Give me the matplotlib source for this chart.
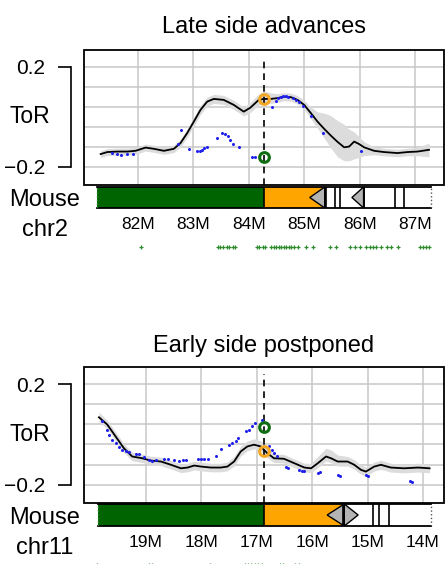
import numpy as np
import matplotlib.pyplot as plt
from matplotlib.patches import Rectangle, Polygon

plt.rcParams['font.family'] = ['Liberation Sans', 'DejaVu Sans']

# ---------------- panel 1: late side advances (mouse chr2) ----------------
top_pos = [81.33, 81.45, 81.63, 81.81, 81.96, 82.14, 82.29, 82.47, 82.65, 82.77, 82.89,
           83.01, 83.13, 83.25, 83.37, 83.55, 83.73, 83.91, 84.03, 84.18, 84.27, 84.40,
           84.51, 84.64, 84.76, 84.88, 85.00, 85.12, 85.24, 85.36, 85.48, 85.60, 85.72,
           85.81, 85.90, 85.99, 86.08, 86.26, 86.44, 86.68, 86.86, 87.04, 87.25]
top_tor = [-0.149, -0.141, -0.139, -0.139, -0.136, -0.123, -0.128, -0.136, -0.128, -0.105, -0.065,
           -0.019, 0.028, 0.061, 0.072, 0.068, 0.048, 0.021, 0.037, 0.068, 0.072, 0.072,
           0.075, 0.081, 0.079, 0.068, 0.048, 0.015, -0.019, -0.048, -0.075, -0.100, -0.122,
           -0.119, -0.099, -0.109, -0.122, -0.136, -0.141, -0.145, -0.141, -0.139, -0.132]
top_hi = [-0.135, -0.127, -0.125, -0.125, -0.122, -0.109, -0.114, -0.122, -0.113, -0.089, -0.048,
          -0.001, 0.046, 0.079, 0.090, 0.086, 0.066, 0.040, 0.058, 0.092, 0.104, 0.096,
          0.093, 0.097, 0.095, 0.085, 0.066, 0.040, 0.020, 0.015, 0.005, -0.015, -0.030,
          -0.050, -0.060, -0.080, -0.100, -0.120, -0.126, -0.130, -0.126, -0.122, -0.105]
top_lo = [-0.163, -0.155, -0.153, -0.153, -0.150, -0.137, -0.142, -0.150, -0.143, -0.121, -0.082,
          -0.037, 0.010, 0.043, 0.054, 0.050, 0.030, 0.004, 0.018, 0.048, 0.054, 0.054,
          0.058, 0.065, 0.063, 0.051, 0.030, -0.008, -0.045, -0.085, -0.125, -0.160, -0.176,
          -0.176, -0.168, -0.162, -0.155, -0.152, -0.156, -0.160, -0.156, -0.156, -0.160]
top_dot_pos = [81.54, 81.63, 81.69, 81.81, 81.92, 82.72, 82.77, 82.92, 83.07, 83.12, 83.16, 83.20,
               83.24, 83.42, 83.52, 83.58, 83.62, 83.67, 83.72, 83.82, 84.06, 84.12, 84.42, 84.49,
               84.53, 84.58, 84.62, 84.67, 84.71, 84.80, 84.85, 84.91, 84.97, 85.12, 85.33, 86.02]
top_dot_tor = [-0.145, -0.148, -0.152, -0.149, -0.149, -0.109, -0.052, -0.128, -0.136, -0.136, -0.131, -0.125,
               -0.119, -0.083, -0.064, -0.069, -0.076, -0.092, -0.109, -0.120, -0.159, -0.160, 0.041, 0.064,
               0.075, 0.079, 0.084, 0.085, 0.081, 0.075, 0.068, 0.059, 0.044, 0.005, -0.065, -0.136]
top_breakpoint = 84.28
top_early_tor = -0.160   # green circle
top_late_tor = 0.071     # orange circle
top_ticks = [82, 83, 84, 85, 86, 87]
top_tick_labels = ['82M', '83M', '84M', '85M', '86M', '87M']
top_xlim = (81.03, 87.52)
top_segments = [(81.26, 84.28, '#006400'), (84.28, 85.39, '#ffa500'), (85.39, 85.56, 'white'),
                (85.56, 85.65, 'white'), (85.65, 86.07, 'white'), (86.07, 86.63, 'white'),
                (86.63, 86.80, 'white'), (86.80, 87.29, 'white')]
top_arrows = [(85.10, 85.37), (85.86, 86.07)]   # (tip, base)
top_marks = [82.05, 83.45, 83.49, 83.54, 83.60, 83.65, 83.71, 83.75, 84.14, 84.19, 84.25, 84.29,
             84.41, 84.45, 84.50, 84.55, 84.59, 84.63, 84.68, 84.73, 84.77, 84.81, 84.89, 85.04,
             85.15, 85.46, 85.57, 85.82, 85.91, 86.00, 86.12, 86.18, 86.24, 86.30, 86.39, 86.50,
             86.57, 86.69, 87.08, 87.14, 87.20, 87.25]

# ---------------- panel 2: early side postponed (mouse chr11) ----------------
bot_pos = [19.85, 19.70, 19.55, 19.40, 19.25, 19.07, 18.92, 18.73, 18.55, 18.37, 18.25, 18.13,
           18.01, 17.83, 17.65, 17.53, 17.41, 17.29, 17.17, 17.05, 16.93, 16.81, 16.69, 16.51,
           16.32, 16.14, 16.02, 15.90, 15.75, 15.66, 15.54, 15.36, 15.24, 15.12, 15.03, 14.88,
           14.76, 14.58, 14.34, 14.09, 13.88]
bot_tor = [0.068, 0.039, -0.008, -0.055, -0.088, -0.095, -0.104, -0.108, -0.121, -0.135, -0.132, -0.124,
           -0.128, -0.132, -0.132, -0.128, -0.108, -0.068, -0.048, -0.041, -0.048, -0.075, -0.095, -0.097,
           -0.115, -0.132, -0.135, -0.115, -0.088, -0.095, -0.108, -0.108, -0.121, -0.141, -0.148, -0.128,
           -0.121, -0.132, -0.135, -0.132, -0.135]
bot_hi = [0.088, 0.056, 0.010, -0.038, -0.071, -0.078, -0.087, -0.091, -0.104, -0.118, -0.115, -0.107,
          -0.111, -0.115, -0.115, -0.110, -0.088, -0.047, -0.026, -0.018, -0.025, -0.055, -0.078, -0.080,
          -0.098, -0.115, -0.115, -0.088, -0.055, -0.062, -0.082, -0.088, -0.101, -0.122, -0.130, -0.110,
          -0.103, -0.115, -0.118, -0.115, -0.117]
bot_lo = [0.050, 0.022, -0.026, -0.072, -0.105, -0.112, -0.121, -0.125, -0.138, -0.152, -0.149, -0.141,
          -0.145, -0.149, -0.149, -0.145, -0.126, -0.086, -0.065, -0.058, -0.066, -0.093, -0.112, -0.114,
          -0.132, -0.149, -0.152, -0.133, -0.106, -0.113, -0.126, -0.126, -0.139, -0.159, -0.166, -0.146,
          -0.139, -0.150, -0.153, -0.150, -0.153]
bot_dot_pos = [19.79, 19.71, 19.67, 19.61, 19.55, 19.49, 19.43, 19.37, 19.31, 19.19, 19.13, 19.04,
               18.95, 18.89, 18.82, 18.67, 18.61, 18.49, 18.40, 18.34, 18.28, 18.07, 18.01, 17.95,
               17.89, 17.74, 17.65, 17.50, 17.44, 17.38, 17.34, 17.20, 17.14, 17.08, 17.03, 16.90,
               16.78, 16.72, 16.69, 16.64, 16.47, 16.44, 16.23, 16.19, 16.14, 15.90, 15.85, 15.54,
               15.49, 15.02, 14.99, 14.24, 14.19]
bot_dot_tor = [0.055, 0.019, -0.004, -0.021, -0.035, -0.052, -0.061, -0.065, -0.071, -0.079, -0.079, -0.092,
               -0.101, -0.105, -0.103, -0.097, -0.097, -0.103, -0.105, -0.103, -0.100, -0.097, -0.097, -0.099,
               -0.099, -0.088, -0.057, -0.044, -0.035, -0.025, -0.015, 0.012, 0.019, 0.032, 0.044, 0.059,
               -0.048, -0.061, -0.075, -0.088, -0.128, -0.132, -0.141, -0.144, -0.145, -0.152, -0.151, -0.161,
               -0.164, -0.161, -0.164, -0.185, -0.188]
bot_breakpoint = 16.87
bot_early_tor = 0.029
bot_late_tor = -0.068
bot_ticks = [19, 18, 17, 16, 15, 14]
bot_tick_labels = ['19M', '18M', '17M', '16M', '15M', '14M']
bot_xlim = (20.12, 13.62)
bot_segments = [(19.86, 16.87, '#006400'), (16.87, 15.45, '#ffa500'), (15.45, 14.91, 'white'),
                (14.91, 14.80, 'white'), (14.80, 14.62, 'white'), (14.62, 13.85, 'white')]
bot_arrows = [(15.73, 15.42), (15.17, 15.42)]
bot_marks = [19.89, 18.95, 18.90, 17.84, 17.21, 17.15, 17.10, 17.03, 16.97, 16.90,
             16.58, 16.52, 16.31, 16.24]

ylim = (-0.273, 0.268)
grid_minor = [-0.12, -0.04, 0.04, 0.12]
W, H = 445.0, 564.0


def box(l, t, r, b):
    return [l / W, 1 - b / H, (r - l) / W, (b - t) / H]


def panel(fig, rect, bar_rect, title, title_pad, pos, tor, lo, hi, dpos, dtor, bp, early, late,
          ticks, labels, xlim, segments, arrows, marks, mark_y, chrom_y, chrom_name):
    ax = fig.add_axes(box(*rect))
    ax.fill_between(pos, lo, hi, color='#dcdcdc', lw=0, zorder=2)
    ax.plot(pos, tor, color='black', lw=1.3, zorder=3)
    ax.plot(dpos, dtor, 'o', color='#2020ee', ms=2.2, mew=0, zorder=4)
    ax.plot([bp, bp], [ylim[0], 0.24], color='black', lw=1.2, ls=(0, (4, 3)), zorder=3)
    ax.plot(bp, late, 'o', mfc='none', mec='#f5a623', mew=2.2, ms=7, zorder=5)
    ax.plot(bp, early, 'o', mfc='none', mec='#0f6e0f', mew=2.2, ms=7, zorder=5)

    ax.set_xlim(*xlim)
    ax.set_ylim(*ylim)
    ax.set_xticks(ticks)
    ax.set_xticklabels(labels)
    ax.set_yticks([-0.2, 0.2])
    ax.set_yticklabels(['\u22120.2', '0.2'])
    ax.set_yticks(grid_minor, minor=True)
    ax.grid(axis='x', color='#c8c8c8', lw=1.1)
    ax.grid(axis='y', which='both', color='#c8c8c8', lw=1.1)
    ax.set_axisbelow(True)
    for s in ['top', 'right', 'bottom']:
        ax.spines[s].set_visible(False)
    ax.spines['left'].set_position(('outward', 9.4))
    ax.spines['left'].set_bounds(-0.2, 0.2)
    ax.spines['left'].set_linewidth(1.2)
    ax.add_patch(Rectangle((0, 0), 1, 1, transform=ax.transAxes, fill=False,
                           ec='black', lw=1.3, clip_on=False, zorder=6))
    ax.tick_params(axis='y', which='major', length=9.4, width=1.2, pad=9, labelsize=15)
    ax.tick_params(axis='y', which='minor', length=0)
    ax.tick_params(axis='x', length=0, pad=23, labelsize=12.5)
    ax.set_title(title, fontsize=17, pad=title_pad)
    ax.set_ylabel('ToR', rotation=0, fontsize=16.5, ha='center', va='center')
    ax.yaxis.set_label_coords(-0.15, (0 - ylim[0]) / (ylim[1] - ylim[0]))

    # chromosome bar
    bx = fig.add_axes(box(*bar_rect))
    bx.set_xlim(*xlim)
    bx.set_ylim(0, 1)
    bx.axis('off')
    for a, b, c in segments:
        bx.add_patch(Rectangle((min(a, b), 0), abs(b - a), 1, fc=c, ec='none'))
    for tip, base in arrows:
        bx.add_patch(Polygon([(base, 0), (base, 1), (tip, 0.5)], closed=True,
                             fc='#b4b4b4', ec='black', lw=1))
    start, end = segments[0][0], segments[-1][1]
    bx.plot([start, end], [0, 0], color='black', lw=1.3, clip_on=False)
    bx.plot([start, end], [1, 1], color='black', lw=1.3, clip_on=False)
    inner = [seg[1] for seg in segments[:-1]] + [base for tip, base in arrows]
    bx.vlines(inner, 0, 1, color='black', lw=1.2)
    bx.vlines([start], 0, 1, color='#2e8b2e', lw=1, ls=':')
    bx.vlines([end], 0, 1, color='#555555', lw=1, ls=':')
    bx.plot(marks, [mark_y] * len(marks), '+', color='#2e8b2e', ms=3.5, mew=0.9,
            clip_on=False)

    fig.text(45 / W, 1 - chrom_y / H, 'Mouse', fontsize=17, ha='center', va='center')
    fig.text(45 / W, 1 - (chrom_y + 30) / H, chrom_name, fontsize=17, ha='center', va='center')
    return ax


fig = plt.figure(figsize=(4.45, 5.64), dpi=100)

panel(fig, (84, 50, 444, 185), (84, 187, 444, 208), 'Late side advances', 12,
      top_pos, top_tor, top_lo, top_hi, top_dot_pos, top_dot_tor, top_breakpoint,
      top_early_tor, top_late_tor, top_ticks, top_tick_labels, top_xlim,
      top_segments, top_arrows, top_marks, -1.85, 200, 'chr2')

panel(fig, (84, 367, 444, 503), (84, 504, 444, 526), 'Early side postponed', 11,
      bot_pos, bot_tor, bot_lo, bot_hi, bot_dot_pos, bot_dot_tor, bot_breakpoint,
      bot_early_tor, bot_late_tor, bot_ticks, bot_tick_labels, bot_xlim,
      bot_segments, bot_arrows, bot_marks, -1.75, 518, 'chr11')

fig.savefig('out.png', dpi=100)
